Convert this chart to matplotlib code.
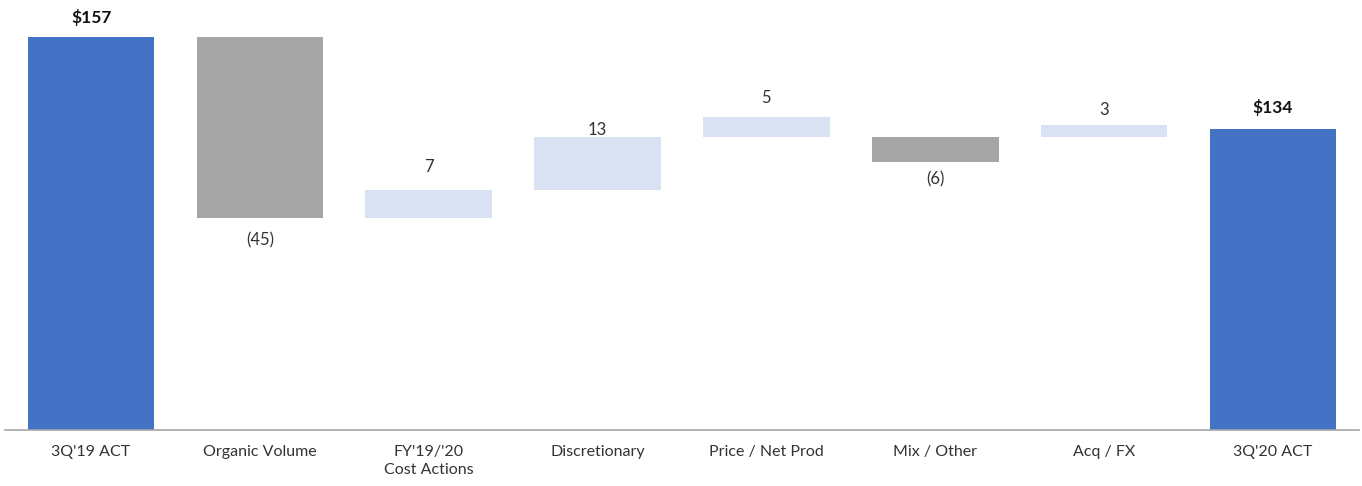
import matplotlib
matplotlib.use("Agg")
import matplotlib.pyplot as plt
import numpy as np

categories = ["3Q'19 ACT", "Organic Volume", "FY'19/'20\nCost Actions", "Discretionary",
              "Price / Net Prod", "Mix / Other", "Acq / FX", "3Q'20 ACT"]
start_total = 157
end_total = 134
changes = [-45, 7, 13, 5, -6, 3]
# level each floating bar starts from, as drawn in the source chart
change_starts = [157, 112, 119, 132, 132, 132]
change_labels = ["(45)", "7", "13", "5", "(6)", "3"]
total_labels = ["$157", "$134"]

plt.rcParams['font.family'] = ['Lato', 'DejaVu Sans']

BLUE = "#4472C4"
GRAY = "#A5A5A5"
LIGHT = "#D9E2F3"
TEXT = "#333333"

# label offsets in pixels (style only)
total_offsets = [19, 22]
change_offsets = [-23, 23, 7, 19, -18, 15]

fig = plt.figure(figsize=(13.62, 4.86), dpi=100)
ax = fig.add_axes([5/1362, 56/486, 1354/1362, 430/486])

x = np.arange(len(categories))
width = 0.75
ymin = 59.2
px2pt = 0.72

# totals
for xi, val, lab, off in zip([x[0], x[-1]], [start_total, end_total], total_labels, total_offsets):
    ax.bar(xi, val - ymin, bottom=ymin, width=width, color=BLUE)
    ax.annotate(lab, (xi, val), xytext=(0, off * px2pt), textcoords="offset points",
                ha="center", va="center", fontsize=12.5, fontweight="bold", color="#111111")

for i, (c, s, lab, off) in enumerate(zip(changes, change_starts, change_labels, change_offsets), start=1):
    new = s + c
    bottom = min(s, new)
    color = GRAY if c < 0 else LIGHT
    ax.bar(x[i], abs(c), bottom=bottom, width=width, color=color)
    anchor = bottom if c < 0 else new
    ax.annotate(lab, (x[i], anchor), xytext=(0, off * px2pt), textcoords="offset points",
                ha="center", va="center", fontsize=12, color=TEXT)

ax.set_xlim(-0.51, len(categories) - 0.49)
ax.set_ylim(ymin, 166.2)
ax.set_xticks(x)
ax.set_xticklabels(categories, fontsize=11.5, color=TEXT, linespacing=1.3)
ax.tick_params(axis="x", length=0, pad=11)
ax.set_yticks([])
for s in ["top", "right", "left"]:
    ax.spines[s].set_visible(False)
ax.spines["bottom"].set_color("#A6A6A6")
ax.spines["bottom"].set_linewidth(1.2)

fig.savefig("out.png", dpi=100, facecolor="white")
